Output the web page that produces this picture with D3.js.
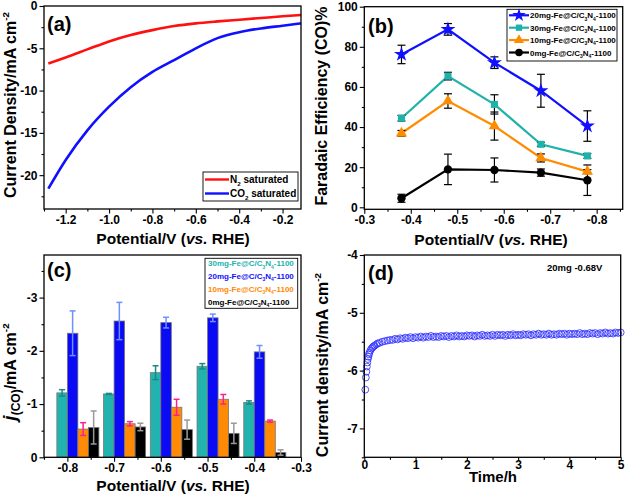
<!DOCTYPE html>
<html><head><meta charset="utf-8">
<script src="https://cdn.jsdelivr.net/npm/d3@7"></script>
<style>
body{margin:0;background:#fff}
svg{font-family:"Liberation Sans",Arial,sans-serif;font-weight:bold}
</style>
</head><body><svg id="c" width="625" height="498"></svg>
<script>
// ---------- DATA ----------
// (a) LSV curves
const lsvPotential = [-1.28,-1.2,-1.1,-1.0,-0.9,-0.8,-0.7,-0.6,-0.5,-0.4,-0.3,-0.2,-0.115];
const lsvN2  = [-6.8,-6.08,-5.13,-4.19,-3.44,-2.85,-2.37,-2.05,-1.82,-1.62,-1.42,-1.22,-1.07];
const lsvCO2 = [-21.6,-18.2,-14.7,-11.9,-9.6,-7.8,-6.4,-5.0,-3.8,-3.1,-2.65,-2.33,-2.05];
const lsvLabels = ["N2 saturated","CO2 saturated"];
const xTicksA = [-1.2,-1.0,-0.8,-0.6,-0.4,-0.2];
const yTicksA = [0,-5,-10,-15,-20];

// (b) Faradaic efficiency
const fePotential = [-0.38,-0.48,-0.58,-0.68,-0.78];
const fe20 = [76.2,88.7,72.1,58.1,40.5];   const fe20Err = [4.6,2.9,2.9,8.2,7.6];
const fe30 = [44.4,65.4,51.3,31.4,25.6];   const fe30Err = [1.4,1.9,4.8,1.0,1.2];
const fe10 = [36.9,53.0,40.5,24.6,17.8];   const fe10Err = [1.4,3.6,7.0,2.0,1.0];
const fe0  = [4.5,18.9,18.6,17.3,13.5];    const fe0Err  = [2.0,7.6,6.0,1.8,7.6];
const feSeries = ["20mg","30mg","10mg","0mg"];
const xTicksB = [-0.3,-0.4,-0.5,-0.6,-0.7,-0.8];
const yTicksB = [0,20,40,60,80,100];

// (c) partial current density
const jPotential = [-0.8,-0.7,-0.6,-0.5,-0.4];
const j30 = [-1.21,-1.19,-1.59,-1.71,-1.03]; const j30Err = [0.06,0.01,0.13,0.05,0.03];
const j20 = [-2.33,-2.56,-2.53,-2.62,-1.98]; const j20Err = [0.42,0.35,0.10,0.07,0.12];
const j10 = [-0.53,-0.63,-0.94,-1.09,-0.68]; const j10Err = [0.12,0.04,0.15,0.09,0.02];
const j0  = [-0.56,-0.57,-0.52,-0.45,-0.09]; const j0Err  = [0.31,0.07,0.18,0.19,0.05];
const jSeries = ["30mg","20mg","10mg","0mg"];
const xTicksC = [-0.8,-0.7,-0.6,-0.5,-0.4,-0.3];
const yTicksC = [0,-1,-2,-3];

// (d) stability
const timeH = [0.02,0.03,0.04,0.05,0.06,0.07,0.08,0.09,0.10,0.12,0.14,0.16,0.18,0.20,0.23,0.26,0.30,0.35,0.40,0.45,0.50,
 0.55,0.60,0.65,0.70,0.75,0.80,0.85,0.90,0.95,1.00,1.05,1.10,1.15,1.20,1.25,1.30,1.35,1.40,1.45,1.50,
 1.55,1.60,1.65,1.70,1.75,1.80,1.85,1.90,1.95,2.00,2.05,2.10,2.15,2.20,2.25,2.30,2.35,2.40,2.45,2.50,
 2.55,2.60,2.65,2.70,2.75,2.80,2.85,2.90,2.95,3.00,3.05,3.10,3.15,3.20,3.25,3.30,3.35,3.40,3.45,3.50,
 3.55,3.60,3.65,3.70,3.75,3.80,3.85,3.90,3.95,4.00,4.05,4.10,4.15,4.20,4.25,4.30,4.35,4.40,4.45,4.50,
 4.55,4.60,4.65,4.70,4.75,4.80,4.85,4.90,4.95,5.00];
const currentD = [-6.33,-6.12,-6.02,-5.93,-5.86,-5.80,-5.76,-5.72,-5.69,-5.65,-5.62,-5.60,-5.58,-5.57,-5.55,-5.53,-5.52,-5.50,-5.49,-5.48,-5.47,
 -5.47,-5.45,-5.46,-5.44,-5.45,-5.43,-5.44,-5.42,-5.44,-5.42,-5.43,-5.41,-5.43,-5.41,-5.42,-5.40,-5.42,-5.41,-5.42,-5.40,
 -5.41,-5.40,-5.42,-5.40,-5.41,-5.39,-5.41,-5.40,-5.41,-5.39,-5.40,-5.39,-5.41,-5.39,-5.40,-5.38,-5.40,-5.39,-5.40,-5.38,
 -5.40,-5.38,-5.39,-5.38,-5.40,-5.38,-5.39,-5.37,-5.39,-5.38,-5.39,-5.37,-5.38,-5.37,-5.39,-5.37,-5.38,-5.36,-5.38,-5.37,
 -5.38,-5.36,-5.38,-5.37,-5.38,-5.36,-5.37,-5.36,-5.38,-5.36,-5.37,-5.36,-5.37,-5.35,-5.37,-5.36,-5.37,-5.35,-5.36,-5.35,
 -5.37,-5.35,-5.36,-5.34,-5.36,-5.35,-5.36,-5.34,-5.35,-5.34];
const xTicksD = [0,1,2,3,4,5];
const yTicksD = [-4,-5,-6,-7];

// ---------- DRAWING ----------
const svg = d3.select("#c");

function rich(sel, parts, size) {
  parts.forEach(p => {
    const t = sel.append("tspan").text(p.t);
    if (p.sub) { t.attr("font-size", size*0.62).attr("dy", size*0.28); }
    else if (p.sup) { t.attr("font-size", size*0.62).attr("dy", -size*0.45); }
    if (p.it) t.attr("font-style","italic");
    if (p.fs) t.attr("font-size", p.fs);
    if (p.back) t.attr("dy", p.back);
  });
}
function potTitle(cx, cy) {
  const t = svg.append("text").attr("x",cx).attr("y",cy).attr("text-anchor","middle").attr("font-size",15.5);
  rich(t, [{t:"Potential/V ("},{t:"vs.",it:true},{t:" RHE)"}], 15.5);
}
function yTitle(cx, cy, parts, fs) {
  const t = svg.append("text").attr("transform",`translate(${cx},${cy}) rotate(-90)`)
    .attr("text-anchor","middle").attr("font-size",fs);
  rich(t, parts, fs);
}
function drawAxes(x, y, o) {
  const [x0,x1] = x.range(), [y0,y1] = y.range();
  const ts = o.xTick || 4.5, tp = o.xPad === undefined ? 1.5 : o.xPad;
  const style = g => { g.select(".domain").remove();
    g.selectAll("line").attr("stroke","#000").attr("stroke-width",1.1);
    g.selectAll("text").attr("font-size",12).attr("font-weight","bold").attr("fill","#000")
     .attr("font-family",'"Liberation Sans",Arial,sans-serif'); };
  svg.append("g").attr("transform",`translate(0,${y0})`)
    .call(d3.axisBottom(x).tickValues(o.xMinor).tickSize(2.5).tickFormat("")).call(style);
  svg.append("g").attr("transform",`translate(0,${y0})`)
    .call(d3.axisBottom(x).tickValues(o.xMajor).tickSize(ts).tickPadding(tp).tickFormat(o.xFmt)).call(style);
  svg.append("g").attr("transform",`translate(${x0},0)`)
    .call(d3.axisLeft(y).tickValues(o.yMinor).tickSize(2.5).tickFormat("")).call(style);
  svg.append("g").attr("transform",`translate(${x0},0)`)
    .call(d3.axisLeft(y).tickValues(o.yMajor).tickSize(4.5).tickPadding(2).tickFormat(o.yFmt)).call(style);
  svg.append("rect").attr("x",x0).attr("y",y1).attr("width",x1-x0).attr("height",y0-y1)
    .attr("fill","none").attr("stroke","#000").attr("stroke-width",1.3);
}
function panelLabel(x, y, s) {
  svg.append("text").attr("x",x).attr("y",y).attr("font-size",20).text(s);
}
const f1 = d => d.toFixed(1);
const f0 = d => String(d);

// ===== (a) =====
{
  const x = d3.scaleLinear().domain([-1.3,-0.115]).range([44,301]);
  const y = d3.scaleLinear().domain([-24,0]).range([209,6]);
  const line = d3.line().x((d,i)=>x(lsvPotential[i])).y(d=>y(d)).curve(d3.curveMonotoneX);
  svg.append("path").attr("d",line(lsvN2)).attr("fill","none").attr("stroke","#ff1010").attr("stroke-width",2.6);
  svg.append("path").attr("d",line(lsvCO2)).attr("fill","none").attr("stroke","#1010ff").attr("stroke-width",2.6);
  drawAxes(x,y,{xMajor:xTicksA, xMinor:[-1.3,-1.1,-0.9,-0.7,-0.5,-0.3], xFmt:f1,
    yMajor:yTicksA, yMinor:[-2.5,-7.5,-12.5,-17.5,-22.5], yFmt:f0});
  // legend
  const lg = svg.append("g");
  lg.append("rect").attr("x",203).attr("y",172).attr("width",95).attr("height",29)
    .attr("fill","#fff").attr("stroke","#000").attr("stroke-width",0.9);
  const cols = ["#ff1010","#1010ff"];
  lsvLabels.forEach((lab,i)=>{
    const yy = 179.5 + i*14;
    lg.append("line").attr("x1",205).attr("x2",229).attr("y1",yy).attr("y2",yy).attr("stroke",cols[i]).attr("stroke-width",2.4);
    const t = lg.append("text").attr("x",230).attr("y",yy+3.5).attr("font-size",10);
    const m = lab.match(/^([A-Z]+)(2)(.*)$/);
    rich(t,[{t:m[1]},{t:m[2],sub:true},{t:m[3],back:-10*0.28}],10);
  });
  potTitle(173, 244);
  yTitle(16, 105, [{t:"Current Density/mA cm"},{t:"-2",sup:true}], 16);
  panelLabel(47, 31, "(a)");
}

// ===== (b) =====
{
  const x = d3.scaleLinear().domain([-0.3,-0.856]).range([364.3,622.7]);
  const y = d3.scaleLinear().domain([-1,100]).range([209.3,6.7]);
  const series = [
    {v:fe0,e:fe0Err,c:"#000000",sym:d3.symbolCircle,sz:55},
    {v:fe10,e:fe10Err,c:"#ff8c00",sym:d3.symbolTriangle,sz:55},
    {v:fe30,e:fe30Err,c:"#20b2aa",sym:d3.symbolSquare,sz:50},
    {v:fe20,e:fe20Err,c:"#1010ff",sym:d3.symbolStar,sz:70}
  ];
  const line = d3.line().x((d,i)=>x(fePotential[i])).y(d=>y(d));
  series.forEach(s=>{
    svg.append("path").attr("d",line(s.v)).attr("fill","none").attr("stroke",s.c).attr("stroke-width",2.2);
    s.v.forEach((v,i)=>{
      const xx = x(fePotential[i]), yt = y(v+s.e[i]), yb = y(v-s.e[i]);
      const g = svg.append("g").attr("stroke","#000").attr("stroke-width",1.2);
      g.append("line").attr("x1",xx).attr("x2",xx).attr("y1",yt).attr("y2",yb);
      g.append("line").attr("x1",xx-4).attr("x2",xx+4).attr("y1",yt).attr("y2",yt);
      g.append("line").attr("x1",xx-4).attr("x2",xx+4).attr("y1",yb).attr("y2",yb);
      svg.append("path").attr("d",d3.symbol().type(s.sym).size(s.sz)())
        .attr("transform",`translate(${xx},${y(v)})`).attr("fill",s.c);
    });
  });
  drawAxes(x,y,{xMajor:xTicksB, xMinor:[-0.35,-0.45,-0.55,-0.65,-0.75,-0.85], xFmt:f1,
    yMajor:yTicksB, yMinor:[10,30,50,70,90], yFmt:f0});
  const lg = svg.append("g");
  lg.append("rect").attr("x",507).attr("y",9.3).attr("width",110).attr("height",51.7)
    .attr("fill","#fff").attr("stroke","#000").attr("stroke-width",0.9);
  const legS = [series[3],series[2],series[1],series[0]];
  feSeries.forEach((lab,i)=>{
    const yy = 15.3 + i*12.4, s = legS[i];
    lg.append("line").attr("x1",509).attr("x2",529).attr("y1",yy).attr("y2",yy).attr("stroke",s.c).attr("stroke-width",2.2);
    lg.append("path").attr("d",d3.symbol().type(s.sym).size(s.sz*0.8)()).attr("transform",`translate(519,${yy})`).attr("fill",s.c);
    const t = lg.append("text").attr("x",530).attr("y",yy+3).attr("font-size",8);
    rich(t,[{t:lab+"-Fe@C/C"},{t:"3",sub:true},{t:"N",back:-8*0.28},{t:"4",sub:true},{t:"-1100",back:-8*0.28}],8);
  });
  potTitle(491, 245);
  yTitle(326.5, 106, [{t:"Faradaic Efficiency (CO)%"}], 16);
  panelLabel(368, 33, "(b)");
}

// ===== (c) =====
{
  const x = d3.scaleLinear().domain([-0.85,-0.3]).range([44,301]);
  const y = d3.scaleLinear().domain([0,-3.8]).range([457.3,255]);
  const bw = 0.0225;
  const series = [
    {v:j30,e:j30Err,c:"#22b3ae",ec:"#188a86",off:-1},
    {v:j20,e:j20Err,c:"#0a0af5",ec:"#6f90ff",off:0},
    {v:j10,e:j10Err,c:"#ff8a05",ec:"#ff2090",off:1},
    {v:j0,e:j0Err,c:"#000000",ec:"#9a9a9a",off:2}
  ];
  series.forEach(s=>{
    s.v.forEach((v,i)=>{
      const xa = x(jPotential[i] + s.off*bw), xb = x(jPotential[i] + (s.off+1)*bw);
      svg.append("rect").attr("x",xa).attr("width",xb-xa).attr("y",y(v)).attr("height",y(0)-y(v))
        .attr("fill",s.c).attr("stroke","#777").attr("stroke-width",0.8);
    });
  });
  series.forEach(s=>{
    s.v.forEach((v,i)=>{
      const xm = x(jPotential[i] + (s.off+0.5)*bw), yt = y(v - s.e[i]), yb = y(v + s.e[i]);
      const g = svg.append("g").attr("stroke",s.ec).attr("stroke-width",1.5);
      g.append("line").attr("x1",xm).attr("x2",xm).attr("y1",yt).attr("y2",yb);
      g.append("line").attr("x1",xm-3).attr("x2",xm+3).attr("y1",yt).attr("y2",yt);
      g.append("line").attr("x1",xm-3).attr("x2",xm+3).attr("y1",yb).attr("y2",yb);
    });
  });
  drawAxes(x,y,{xMajor:xTicksC, xMinor:[-0.85,-0.75,-0.65,-0.55,-0.45,-0.35], xFmt:f1,
    yMajor:yTicksC, yMinor:[-0.5,-1.5,-2.5,-3.5], yFmt:f0});
  const lg = svg.append("g");
  lg.append("rect").attr("x",205).attr("y",258.3).attr("width",92.7).attr("height",50)
    .attr("fill","#fff").attr("stroke","#000").attr("stroke-width",0.9);
  const lc = ["#22b3ae","#1010ff","#ff8a05","#000000"];
  jSeries.forEach((lab,i)=>{
    const yy = 266.3 + i*12.8;
    const t = lg.append("text").attr("x",208).attr("y",yy).attr("font-size",8).attr("fill",lc[i]);
    rich(t,[{t:lab+"-Fe@C/C"},{t:"3",sub:true},{t:"N",back:-8*0.28},{t:"4",sub:true},{t:"-1100",back:-8*0.28}],8);
  });
  potTitle(173, 491);
  yTitle(16, 372, [{t:"j",it:true,fs:19},{t:"(CO)",sub:true,fs:12},{t:"/mA cm",back:-16*0.28},{t:"-2",sup:true}], 16);
  panelLabel(47, 277, "(c)");
}

// ===== (d) =====
{
  const x = d3.scaleLinear().domain([0,5]).range([364.3,620.7]);
  const y = d3.scaleLinear().domain([-7.5,-4]).range([457.3,255]);
  svg.append("g").selectAll("circle").data(timeH).join("circle")
    .attr("cx",(d)=>x(d)).attr("cy",(d,i)=>y(currentD[i])).attr("r",3.4)
    .attr("fill","none").attr("stroke","#3030ff").attr("stroke-width",0.85);
  drawAxes(x,y,{xMajor:xTicksD, xMinor:[0.5,1.5,2.5,3.5,4.5], xFmt:f0, xTick:3, xPad:0,
    yMajor:yTicksD, yMinor:[-4.5,-5.5,-6.5,-7.5], yFmt:f0});
  svg.append("text").attr("x",547).attr("y",270.5).attr("font-size",9.5).text("20mg -0.68V");
  svg.append("text").attr("x",493).attr("y",482).attr("text-anchor","middle").attr("font-size",15).text("Time/h");
  yTitle(328, 365, [{t:"Current density/mA cm"},{t:"-2",sup:true}], 16);
  panelLabel(368, 280, "(d)");
}
</script></body></html>
